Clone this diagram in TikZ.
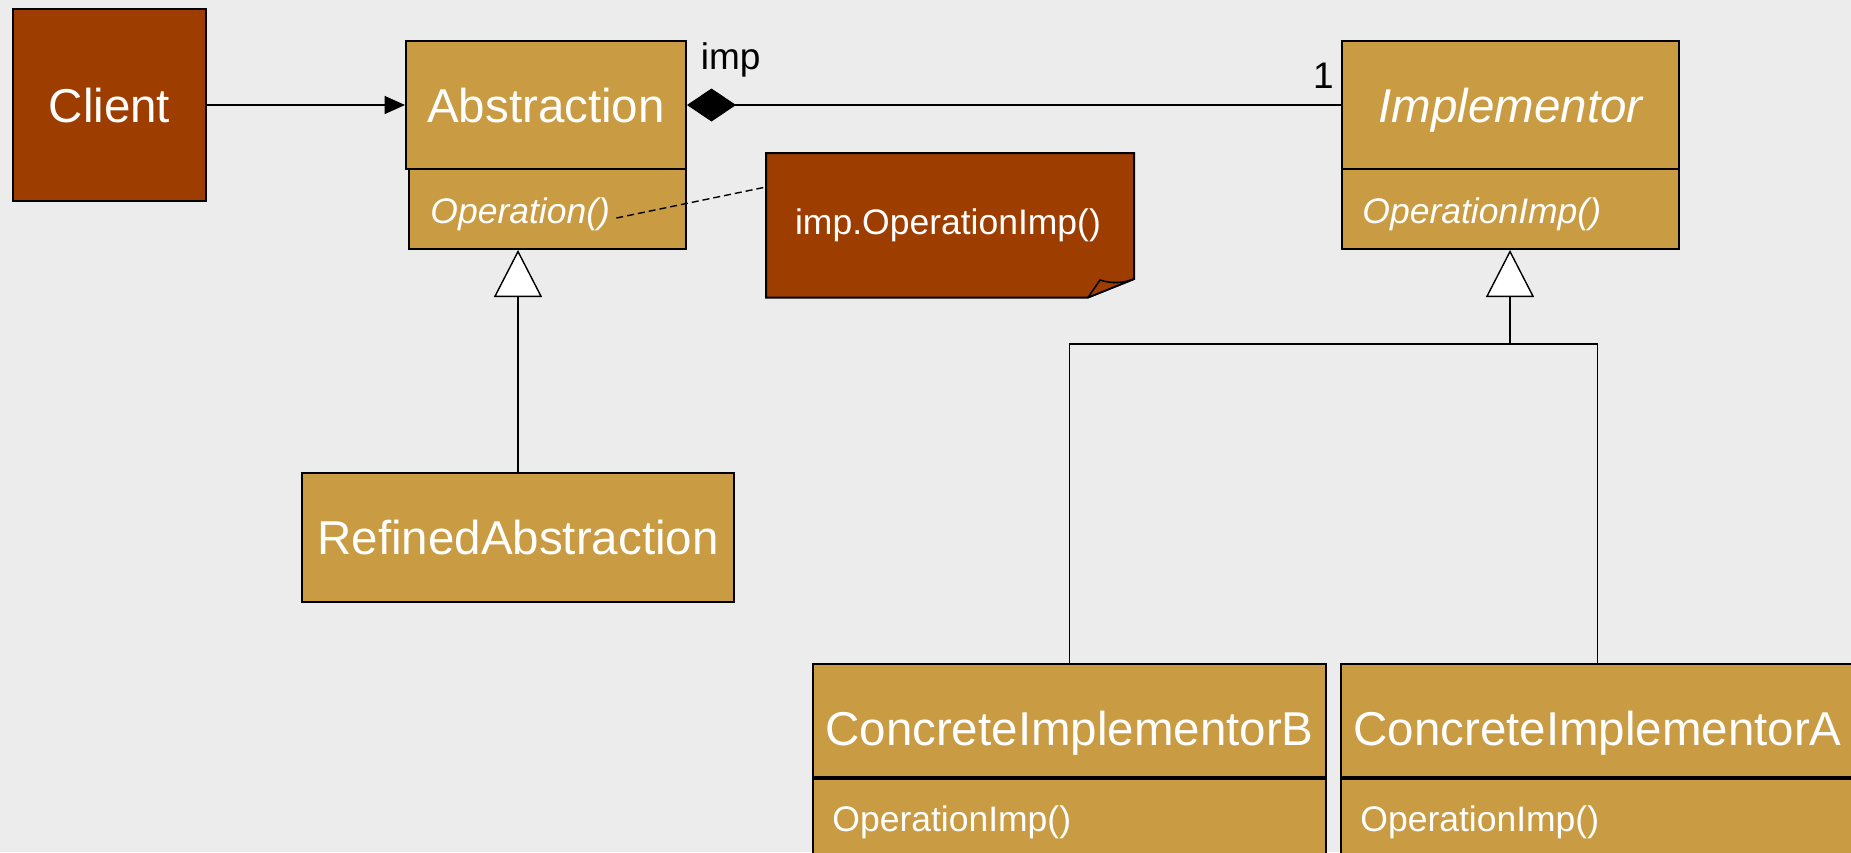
\documentclass[tikz,border=0pt]{standalone}
\usepackage{fontspec}
\setmainfont{Liberation Sans}
\usetikzlibrary{arrows.meta,positioning}
\definecolor{bgcol}{RGB}{236,236,236}
\definecolor{rustcol}{RGB}{158,61,0}
\definecolor{classcol}{RGB}{201,155,67}
\newcommand{\bigtxt}{\fontsize{23.75}{28}\selectfont}
\newcommand{\smalltxt}{\fontsize{17.75}{21}\selectfont}
\newcommand{\lbltxt}{\fontsize{18.5}{22}\selectfont}

\begin{document}
\begin{tikzpicture}[x=0.5pt,y=-0.5pt]
        \tikzstyle{box}=[rectangle,draw=black,line width=1pt,inner sep=0pt,text=white,font=\bigtxt,text depth=0pt];
        \tikzstyle{classbox}=[box,fill=classcol];
        \tikzstyle{clsname}=[text=white,font=\bigtxt,text depth=0pt,inner sep=0pt];
        \tikzstyle{method}=[text=white,font=\smalltxt,inner sep=3pt,anchor=west];
        \tikzstyle{lbl}=[text=black,font=\lbltxt,inner sep=0pt];
        \tikzstyle{conn}=[line width=0.7pt];
        \tikzstyle{inherit}=[conn,-{Triangle[fill=white,length=23.5pt,width=24pt]}];

          \useasboundingbox (0,0) rectangle (1851,852);
          \clip (0,0) rectangle (1851,852);
          \fill[bgcol] (0,0) rectangle (1851,852);

          % classes
          \node[box,fill=rustcol,minimum width=96.5pt,minimum height=96pt] (client) at (109.5,105) {Client};
          \node[classbox,minimum width=140pt,minimum height=64pt] (abs) at (546,105) {Abstraction};
          \node[classbox,minimum width=138.5pt,minimum height=40pt] (absop) at (547.5,209) {};
          \node[method,font=\smalltxt\itshape] (opname) at (424,214) {Operation()};
          \node[classbox,font=\bigtxt\itshape,minimum width=168.5pt,minimum height=64pt] (impl) at (1510.5,105) {Implementor};
          \node[classbox,minimum width=168.5pt,minimum height=40pt] (implop) at (1510.5,209) {};
          \node[method,font=\smalltxt\itshape] (implopname) at (1356,214.5) {OperationImp()};
          \node[classbox,minimum width=216pt,minimum height=64.5pt] (refined) at (518,537.5) {RefinedAbstraction};

          \foreach \n/\x/\l in {cib/1069.5/B,cia/1597.5/A}{
            \node[classbox,minimum width=256.5pt,minimum height=56.5pt] (\n) at (\x,720.5) {};
            \node[clsname] (\n-name) at ([yshift=-3.75pt]\n.center) {ConcreteImplementor\l};
            \node[classbox,minimum width=256.5pt,minimum height=51.5pt,anchor=north] (\n-op) at (\n.south) {};
            \node[method] (\n-opname) at ([xshift=7pt]\n-op.west |- 0,822) {OperationImp()};
          }

          % note
          \filldraw[fill=rustcol,line width=1pt] (766,153) -- (1134,153) -- (1134,279) -- (1088,297.5) -- (766,297.5) -- cycle;
          \filldraw[fill=rustcol,line width=0.8pt,line join=round] (1088,297.5) -- (1100,280) .. controls (1112,284) and (1124,283) .. (1134,279) -- cycle;
          \node[lbl,text=white,font=\smalltxt] (note) at (948,225) {imp.OperationImp()};
          \coordinate (notein) at (766,187);
          \draw[conn,dash pattern=on 3.5pt off 2pt] ([yshift=-2pt]opname.east) -- (notein);

          % connectors
          \draw[conn,-{Triangle[length=10.2pt,width=9pt]}] (client.east) -- (abs.west);
          \draw[conn,{Diamond[length=24.5pt,width=16.5pt]}-] (abs.east) -- (impl.west);
          \node[lbl,anchor=base west] (implbl) at (700.5,69.3) {imp};
          \node[lbl,anchor=base east] (mult) at (1334,88.3) {1};

          \draw[inherit] (refined.north) -- (refined.north |- absop.south);

          \coordinate (bar) at (1510,344);
          \draw[inherit] (bar) -- (bar |- implop.south);
          \draw[conn] (cib.north) |- (bar) -| (cia.north);

          %\draw (0,0) rectangle (1851,852);
      \end{tikzpicture}
\end{document}
